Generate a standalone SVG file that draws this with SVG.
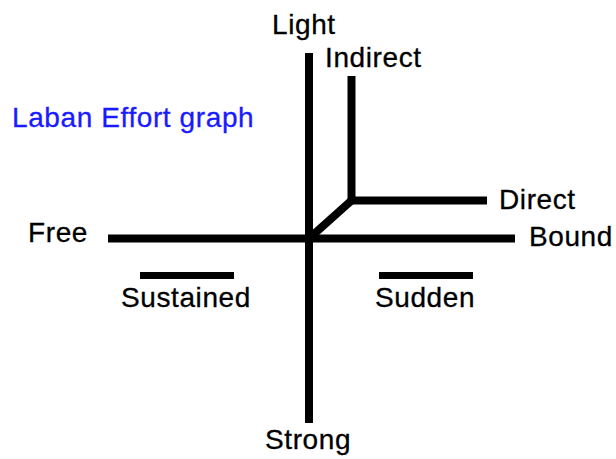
<svg xmlns="http://www.w3.org/2000/svg" width="616" height="459" viewBox="0 0 616 459">
<style>
.t{font-family:"Liberation Sans",Arial,sans-serif;font-size:28px;letter-spacing:0.6px;fill:#000;stroke:#000;stroke-width:0.3px}
.ln{stroke:#000;stroke-width:8;fill:none}
.bar{stroke:#000;stroke-width:7;fill:none}
</style>
<rect width="616" height="459" fill="#fff"/>
<g id="connectors">
<line class="ln" x1="309" y1="53" x2="309" y2="423"/>
<line class="ln" x1="108" y1="238.5" x2="515" y2="238.5"/>
<polyline class="ln" points="351.5,76 351.5,200.5 487,200.5" stroke-linejoin="miter"/>
<line class="ln" x1="309" y1="238.5" x2="351.5" y2="200.5"/>
<line class="bar" x1="140" y1="275.5" x2="234" y2="275.5"/>
<line class="bar" x1="379" y1="275.5" x2="473" y2="275.5"/>
</g>
<g id="title"><text class="t" x="12" y="127" style="fill:#1a1aff;stroke:#1a1aff">Laban Effort graph</text></g>
<g id="light"><text class="t" x="272" y="34">Light</text></g>
<g id="indirect"><text class="t" x="325" y="67">Indirect</text></g>
<g id="direct"><text class="t" x="499" y="209">Direct</text></g>
<g id="free"><text class="t" x="28" y="242">Free</text></g>
<g id="bound"><text class="t" x="529" y="246">Bound</text></g>
<g id="sustained"><text class="t" x="121" y="307">Sustained</text></g>
<g id="sudden"><text class="t" x="375" y="307">Sudden</text></g>
<g id="strong"><text class="t" x="265" y="449">Strong</text></g>
</svg>
